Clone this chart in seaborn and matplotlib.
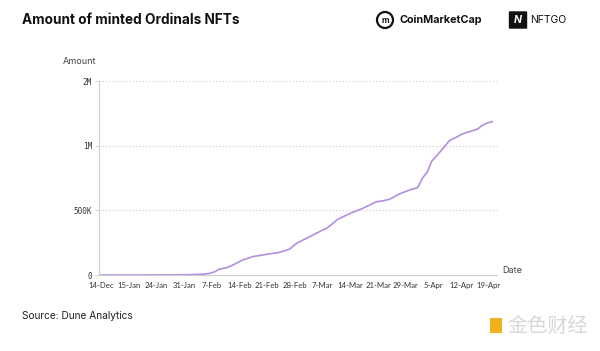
import pandas as pd
import numpy as np
import seaborn as sns
import matplotlib.pyplot as plt
from matplotlib.patches import Ellipse, FancyBboxPatch, Rectangle

# ---------------- data ----------------
# x in days from the first tick ("14-Dec"), y in number of minted NFTs
days = [0, 10, 20, 24, 26, 27.5, 28.8, 29.8, 31.8, 33.3, 35.8, 38.3, 41.9, 45.2,
        47.7, 49.4, 52.7, 56, 57, 58.3, 59.8, 61.6, 63.6, 65.8, 67.9, 69.6,
        71.1, 72.9, 75.4, 78, 80, 81.2, 82.5, 83.5, 85, 86.8, 88, 89.8, 91.3,
        93.1, 95.1, 96.1, 97.4, 98.9]
minted = [0, 0, 1000, 4000, 7000, 13000, 26000, 44000, 57000, 77000, 116000,
          142000, 160000, 176000, 201000, 245000, 296000, 348000, 361000,
          392000, 431000, 457000, 485000, 511000, 542000, 567000, 573000,
          586000, 627000, 658000, 676000, 748000, 800000, 877000, 929000,
          993000, 1039000, 1066000, 1091000, 1109000, 1128000, 1153000,
          1174000, 1187000]

date_labels = ['14-Dec', '15-Jan', '24-Jan', '31-Jan', '7-Feb', '14-Feb', '21-Feb',
               '28-Feb', '7-Mar', '14-Mar', '21-Mar', '29-Mar', '5-Apr', '12-Apr',
               '19-Apr']
amount_ticks = [0, 500000, 1000000, 1500000]
amount_labels = ['0', '500K', '1M', '2M']

df = pd.DataFrame({'day': days, 'minted': minted})

sns.set_theme(style='white')
plt.rcParams['font.family'] = ['Inter', 'DejaVu Sans']

fig = plt.figure(figsize=(6, 3.51), dpi=100)
ax = fig.add_axes([0.165, 0.2165, 0.663, 0.5525])

sns.lineplot(data=df, x='day', y='minted', ax=ax, color='#b28ee0', linewidth=1.2)

ax.set_xlim(-0.5, 100)
ax.set_ylim(0, 1500000)
ax.set_xticks(np.arange(len(date_labels)) * 7)
ax.set_xticklabels(date_labels, fontsize=5.6, color='#333333', family='Lato')
ax.set_yticks(amount_ticks)
ax.set_yticklabels(amount_labels, fontsize=5.5, color='#333333', family='DejaVu Sans Mono')
ax.set_xlabel('')
ax.set_ylabel('')

for v in amount_ticks[1:]:
    ax.axhline(v, color='#cccccc', linestyle=(0, (1, 2)), linewidth=0.8, zorder=0)

for s in ['top', 'right']:
    ax.spines[s].set_visible(False)
for s in ['left', 'bottom']:
    ax.spines[s].set_color('#cccccc')
    ax.spines[s].set_linewidth(0.8)
ax.tick_params(axis='y', length=3, width=0.6, color='#cccccc', pad=2, left=True)
ax.tick_params(axis='x', length=0, pad=5)

ax.text(-0.05, 1.1, 'Amount', transform=ax.transAxes, fontsize=6.5,
        color='#444444', ha='center', va='center')
ax.text(1.04, 0.025, 'Date', transform=ax.transAxes, fontsize=6.5,
        color='#444444', ha='center', va='center')

# 标题和来源
fig.text(22 / 600, 1 - 20 / 351, 'Amount of minted Ordinals NFTs', fontsize=9.8,
         fontweight='bold', color='#111111', va='center')
fig.text(22 / 600, 1 - 316 / 351, 'Source: Dune Analytics', fontsize=7.3,
         color='#222222', va='center')

# logos
fig.patches.append(Ellipse((385 / 600, 1 - 20 / 351), 16 / 600, 16 / 351,
                           transform=fig.transFigure, fill=False, lw=1.6, ec='#111111'))
fig.text(385 / 600, 1 - 20.5 / 351, 'm', fontsize=6, fontweight='bold', ha='center',
         va='center', color='#111111')
fig.text(399 / 600, 1 - 20 / 351, 'CoinMarketCap', fontsize=7.8, fontweight='bold',
         color='#111111', va='center')
fig.patches.append(FancyBboxPatch((510 / 600, 1 - 28 / 351), 16 / 600, 16 / 351,
                                  boxstyle='round,pad=0.002', transform=fig.transFigure,
                                  fc='#111111', ec='none'))
fig.text(518 / 600, 1 - 20 / 351, 'N', fontsize=7.5, fontweight='bold', style='italic',
         ha='center', va='center', color='white')
fig.text(530 / 600, 1 - 20 / 351, 'NFTGO', fontsize=7.5, color='#111111', va='center')

# 水印
fig.patches.append(Rectangle((490 / 600, 1 - 333 / 351), 12 / 600, 15 / 351,
                             transform=fig.transFigure, fc='#f2b01e', ec='none'))
fig.text(507 / 600, 1 - 326 / 351, '金色财经', fontsize=14.5, color='#d8d8d8',
         family=['Noto Sans CJK SC', 'DejaVu Sans'], va='center')

fig.savefig('out.png', dpi=100, facecolor='white')
